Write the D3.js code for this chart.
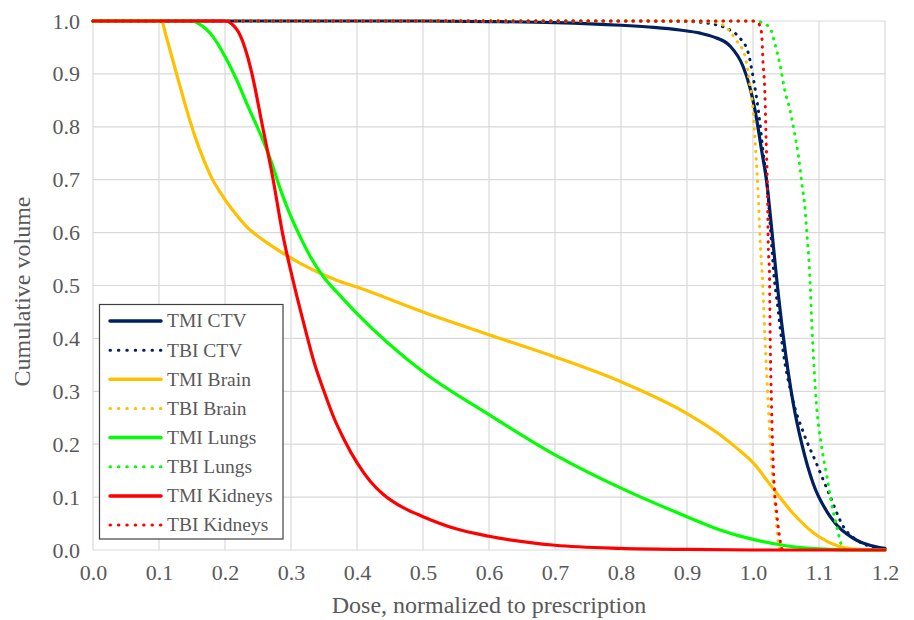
<!DOCTYPE html>
<html>
<head>
<meta charset="utf-8">
<script src="https://cdn.jsdelivr.net/npm/d3@7/dist/d3.min.js"></script>
<style>
  html, body { margin: 0; padding: 0; background: #fff; }
  svg text { font-family: "Liberation Serif", "Times New Roman", serif; fill: #595959; }
</style>
</head>
<body>
<svg id="chart" width="914" height="620"></svg>
<script>
// ---- Data (dose normalized to prescription, cumulative volume) ----
const seriesNames = ["TMI CTV", "TBI CTV", "TMI Brain", "TBI Brain", "TMI Lungs", "TBI Lungs", "TMI Kidneys", "TBI Kidneys"];
const seriesColors = ["#002060", "#002060", "#FFC000", "#FFC000", "#00FF00", "#00FF00", "#FF0000", "#FF0000"];
const seriesDotted = [false, true, false, true, false, true, false, true];

const tmiCtv = [[0,1],[0.5,1],[0.6,0.999],[0.7,0.997],[0.8,0.992],[0.85,0.988],[0.889,0.983],[0.92,0.977],[0.94,0.97],[0.965,0.953],[0.985,0.914],[0.995,0.876],[1.003,0.832],[1.013,0.756],[1.021,0.693],[1.028,0.611],[1.035,0.523],[1.046,0.403],[1.061,0.277],[1.074,0.2],[1.091,0.126],[1.117,0.063],[1.152,0.022],[1.18,0.008],[1.2,0.003]];
const tbiCtv = [[0,1],[0.8,1],[0.9,0.999],[0.94,0.994],[0.965,0.983],[0.98,0.968],[0.993,0.939],[1.0,0.895],[1.008,0.832],[1.015,0.756],[1.023,0.668],[1.028,0.58],[1.032,0.515],[1.036,0.475],[1.046,0.372],[1.059,0.29],[1.077,0.22],[1.096,0.164],[1.117,0.101],[1.137,0.044],[1.157,0.019],[1.18,0.006],[1.2,0.002]];
const tmiBrain = [[0,1],[0.104,1],[0.11,0.975],[0.12,0.93],[0.13,0.885],[0.142,0.832],[0.155,0.78],[0.168,0.737],[0.18,0.703],[0.195,0.672],[0.21,0.645],[0.233,0.611],[0.273,0.573],[0.314,0.542],[0.369,0.51],[0.4,0.497],[0.5,0.45],[0.6,0.407],[0.7,0.365],[0.8,0.318],[0.9,0.258],[0.95,0.218],[0.975,0.193],[1.0,0.165],[1.03,0.117],[1.06,0.07],[1.1,0.025],[1.13,0.007],[1.16,0.001],[1.2,0]];
const tbiBrain = [[0,1],[0.9,1],[0.94,0.998],[0.955,0.992],[0.975,0.963],[0.988,0.933],[0.995,0.882],[1.0,0.832],[1.004,0.756],[1.008,0.668],[1.011,0.58],[1.014,0.52],[1.018,0.403],[1.023,0.277],[1.028,0.164],[1.031,0.12],[1.035,0.06],[1.038,0.016],[1.042,0]];
const tmiLungs = [[0,1],[0.15,1],[0.16,0.995],[0.182,0.97],[0.2,0.933],[0.218,0.888],[0.235,0.838],[0.253,0.788],[0.271,0.731],[0.283,0.685],[0.298,0.636],[0.314,0.592],[0.33,0.553],[0.35,0.515],[0.375,0.48],[0.4,0.447],[0.5,0.337],[0.6,0.256],[0.7,0.18],[0.8,0.117],[0.9,0.063],[0.95,0.038],[1.0,0.02],[1.05,0.008],[1.1,0.002],[1.15,0],[1.2,0]];
const tbiLungs = [[0,1],[1.005,1],[1.015,0.996],[1.026,0.986],[1.033,0.958],[1.041,0.917],[1.048,0.87],[1.056,0.832],[1.064,0.781],[1.069,0.744],[1.074,0.693],[1.079,0.643],[1.082,0.592],[1.085,0.542],[1.09,0.403],[1.096,0.277],[1.104,0.195],[1.112,0.139],[1.119,0.088],[1.127,0.044],[1.134,0.009],[1.14,0]];
const tmiKidneys = [[0,1],[0.2,1],[0.21,0.995],[0.22,0.98],[0.23,0.95],[0.24,0.905],[0.257,0.8],[0.273,0.7],[0.287,0.6],[0.303,0.51],[0.32,0.425],[0.335,0.355],[0.35,0.3],[0.365,0.25],[0.38,0.21],[0.4,0.165],[0.42,0.13],[0.44,0.105],[0.47,0.08],[0.5,0.063],[0.55,0.04],[0.6,0.026],[0.7,0.009],[0.8,0.003],[0.9,0.001],[1.0,0],[1.2,0]];
const tbiKidneys = [[0,1],[1.0,1],[1.008,0.996],[1.013,0.977],[1.015,0.926],[1.018,0.863],[1.02,0.769],[1.022,0.674],[1.023,0.58],[1.025,0.52],[1.026,0.403],[1.028,0.277],[1.031,0.151],[1.036,0.069],[1.041,0.019],[1.044,0]];
const seriesData = [tmiCtv, tbiCtv, tmiBrain, tbiBrain, tmiLungs, tbiLungs, tmiKidneys, tbiKidneys];

const xTicks = [0,0.1,0.2,0.3,0.4,0.5,0.6,0.7,0.8,0.9,1.0,1.1,1.2];
const yTicks = [0,0.1,0.2,0.3,0.4,0.5,0.6,0.7,0.8,0.9,1.0];
const xTitle = "Dose, normalized to prescription";
const yTitle = "Cumulative volume";

// ---- Layout ----
const svg = d3.select("#chart");
const plot = {left: 93, right: 885, top: 21, bottom: 550};
const x = d3.scaleLinear().domain([0, 1.2]).range([plot.left, plot.right]);
const y = d3.scaleLinear().domain([0, 1]).range([plot.bottom, plot.top]);
const FONT = "'Liberation Serif', 'Times New Roman', serif";

// gridlines
const grid = svg.append("g");
grid.selectAll("line.v").data(xTicks).join("line")
  .attr("x1", d => x(d)).attr("x2", d => x(d))
  .attr("y1", plot.top).attr("y2", plot.bottom)
  .attr("stroke", "#d9d9d9").attr("stroke-width", 1.2);
grid.selectAll("line.h").data(yTicks).join("line")
  .attr("x1", plot.left).attr("x2", plot.right)
  .attr("y1", d => y(d)).attr("y2", d => y(d))
  .attr("stroke", "#d9d9d9").attr("stroke-width", 1.2);

// axes (labels only)
const xAxis = d3.axisBottom(x).tickValues(xTicks).tickFormat(d3.format(".1f")).tickSize(0).tickPadding(14);
const gx = svg.append("g").attr("transform", `translate(0,${plot.bottom})`).call(xAxis)
  .attr("font-family", FONT).attr("font-size", 22);
gx.select(".domain").remove();
gx.selectAll("text").attr("fill", "#595959");

const yAxis = d3.axisLeft(y).tickValues(yTicks).tickFormat(d3.format(".1f")).tickSize(0).tickPadding(13);
const gy = svg.append("g").attr("transform", `translate(${plot.left},0)`).call(yAxis)
  .attr("font-family", FONT).attr("font-size", 22);
gy.select(".domain").remove();
gy.selectAll("text").attr("fill", "#595959");

// titles
svg.append("text").attr("x", (plot.left + plot.right) / 2).attr("y", 613)
  .attr("text-anchor", "middle").style("font-size", "24px").text(xTitle);
svg.append("text").attr("transform", `translate(30,${(plot.top + plot.bottom) / 2 + 6}) rotate(-90)`)
  .attr("text-anchor", "middle").style("font-size", "24px").text(yTitle);

// series
const line = d3.line().x(d => x(d[0])).y(d => y(d[1])).curve(d3.curveMonotoneX);
const gs = svg.append("g");
seriesData.forEach((data, i) => {
  const p = gs.append("path").attr("d", line(data))
    .attr("fill", "none").attr("stroke", seriesColors[i])
    .attr("stroke-linejoin", "round");
  if (seriesDotted[i]) {
    p.attr("stroke-width", 3).attr("stroke-linecap", "round").attr("stroke-dasharray", "0.5 7");
  } else {
    p.attr("stroke-width", 3.2).attr("stroke-linecap", "round");
  }
});

// legend
const leg = svg.append("g");
const lb = {x: 99.5, y: 304.5, w: 183.5, h: 234.5};
leg.append("rect").attr("x", lb.x).attr("y", lb.y).attr("width", lb.w).attr("height", lb.h)
  .attr("fill", "#fff").attr("stroke", "#404040").attr("stroke-width", 1.2);
seriesNames.forEach((name, i) => {
  const cy = 321 + i * 29.15;
  const l = leg.append("line").attr("x1", 110).attr("x2", 161).attr("y1", cy).attr("y2", cy)
    .attr("stroke", seriesColors[i]);
  if (seriesDotted[i]) {
    l.attr("stroke-width", 3).attr("stroke-linecap", "round").attr("stroke-dasharray", "0.5 7.9");
  } else {
    l.attr("stroke-width", 3.5).attr("stroke-linecap", "round");
  }
  leg.append("text").attr("x", 167).attr("y", cy).attr("dy", "0.33em")
    .style("font-size", "19.5px").text(name);
});
</script>
</body>
</html>
